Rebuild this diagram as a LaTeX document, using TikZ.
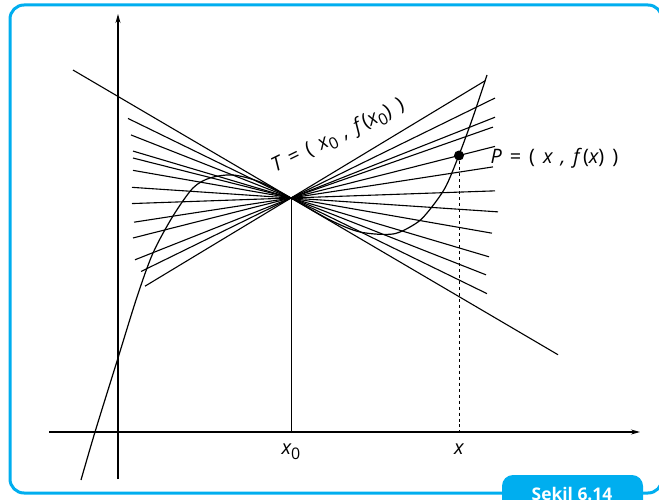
\documentclass[tikz,border=0pt]{standalone}
\usepackage{fontspec}
\setmainfont{Open Sans}
\usepackage{xcolor}
\usetikzlibrary{arrows.meta}
\definecolor{frameblue}{RGB}{0,174,239}
\newcommand{\subnum}[1]{\raisebox{-0.45ex}{\fontsize{16}{16}\selectfont\upshape #1}}
\newcommand{\gap}{\hspace{0.4em}}

\begin{document}
\begin{tikzpicture}[x=1bp, y=-1bp, line width=1.1bp,
    lbl/.style={font=\fontsize{20}{23}\selectfont\itshape, inner sep=0pt},
    axis/.style={line width=1.2bp, -{Stealth[length=9bp,width=5bp]}}]
    \useasboundingbox (0,0) rectangle (659,500);
    \clip (0,0) rectangle (659,500);
    % Frame and caption tab
    \draw[frameblue, line width=3bp, rounded corners=14bp] (10,5) rectangle (662,493);
    \fill[frameblue, rounded corners=11bp] (502,475) rectangle (643,520);
    \node[font=\fontsize{17.5}{20}\selectfont\bfseries, text=white, anchor=base] (cap) at (572,500) {Şekil 6.14};
    % Axes
    \draw[axis] (49,432) -- (640,432);
    \draw[axis] (118,479) -- (118,14);
    % Tangency point T and moving point P
    \coordinate (T) at (291,198);
    \coordinate (P) at (459,155.5);
    \coordinate (T0) at (291,432);
    \coordinate (P0) at (459,432);
    \draw[line width=0.6bp] (T) -- (T0);
    \draw[dashed, line width=0.6bp] (P) -- (P0);
    % Secants through T
    \foreach \s/\a/\b in {0.488/128/487, 0.394/131/486, 0.297/133/489, 0.253/133/291,
        0.175/133/492, 0.067/132/498, -0.035/132/495, -0.154/134/493, -0.253/133/495,
        -0.351/291/493, -0.396/135/495, -0.49/141/495, -0.604/145/485}
        \draw (\a,{198+(\s)*(\a-291)}) -- (\b,{198+(\s)*(\b-291)});
    % Tangent at T
    \draw (73,{198+0.587*(73-291)}) -- (558,{198+0.587*(558-291)});
    % Graph of f
    \draw[line width=1.2bp] plot[smooth] coordinates {(81,480) (95,432) (118,358) (137,297)
        (153,253) (173,216) (193,188) (210,178) (233,175) (260,182) (291,198) (330,220)
        (360,232) (393,234) (415,224) (427,213) (445,188) (459,155) (473,117) (487,75)};
    \fill (P) circle (5bp);
    % Labels
    \node[lbl, anchor=north] (xzero) at ([yshift=-11bp]T0) {x\subnum{0}};
    \node[lbl, anchor=north] (xlab) at ([yshift=-11bp]P0) {x};
    \node[lbl, anchor=base west] (plab) at (490,164)
        {P\gap{\upshape =}\gap{\upshape (}\gap x\gap,\gap f\,{\upshape(}x{\upshape)}\gap{\upshape )}};
    \node[lbl, anchor=base west, rotate=26] (tlab) at (275,173)
        {T\gap{\upshape =}\gap{\upshape (}\gap x\subnum{0}\gap,\gap f\,{\upshape(}x\subnum{0}{\upshape)}\gap{\upshape )}};
\end{tikzpicture}
\end{document}
